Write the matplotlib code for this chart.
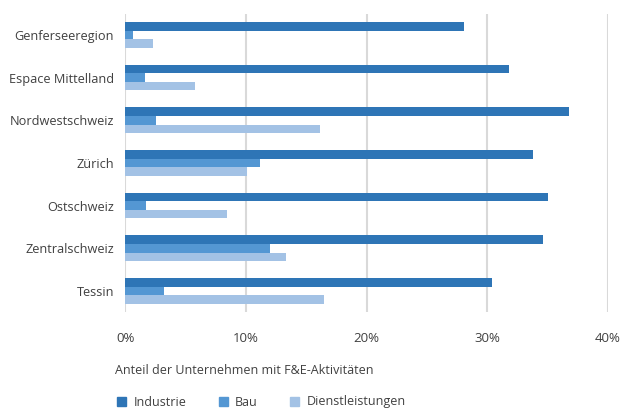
import matplotlib.pyplot as plt
import numpy as np
from matplotlib.patches import Patch

plt.rcParams['font.family'] = ['Open Sans', 'DejaVu Sans']

regions = ["Genferseeregion", "Espace Mittelland", "Nordwestschweiz", "Zürich",
           "Ostschweiz", "Zentralschweiz", "Tessin"]
industrie = [28.1, 31.8, 36.8, 33.8, 35.0, 34.6, 30.4]
bau = [0.6, 1.6, 2.5, 11.2, 1.7, 12.0, 3.2]
dienst = [2.3, 5.8, 16.1, 10.1, 8.4, 13.3, 16.5]
xticks = [0, 10, 20, 30, 40]

c_ind = "#2E75B6"
c_bau = "#5497D3"
c_dl = "#A3C2E5"
txt = "#404040"

fig = plt.figure(figsize=(6.33, 4.12), dpi=100)
ax = fig.add_axes([0.198, 0.242, 0.7625, 0.725])

y = np.arange(len(regions))
h = 0.2
ax.barh(y - h, industrie, height=h, color=c_ind, zorder=3)
ax.barh(y, bau, height=h, color=c_bau, zorder=3)
ax.barh(y + h, dienst, height=h, color=c_dl, zorder=3)

ax.set_ylim(len(regions) - 0.5, -0.5)
ax.set_xlim(0, 40)
ax.set_yticks(y)
ax.set_yticklabels(regions, fontsize=9.2, color=txt)
ax.set_xticks(xticks)
ax.set_xticklabels([f"{v}%" for v in xticks], fontsize=9.5, color=txt)
ax.tick_params(axis='y', length=0, pad=8)
ax.tick_params(axis='x', length=0, pad=14)
for s in ax.spines.values():
    s.set_visible(False)
ax.grid(axis='x', color="#D9D9D9", linewidth=1.5, zorder=0)

fig.text(115 / 633, 1 - 370 / 412, "Anteil der Unternehmen mit F&E-Aktivitäten",
         fontsize=9, color=txt, va='center', ha='left')

handles = [Patch(color=c_ind, label="Industrie"),
           Patch(color=c_bau, label="Bau"),
           Patch(color=c_dl, label="Dienstleistungen")]
fig.legend(handles=handles, loc='center left', bbox_to_anchor=(106 / 633, 1 - 402 / 412),
           ncol=3, frameon=False, fontsize=9, labelcolor=txt,
           handlelength=0.7, handleheight=0.7, columnspacing=2.6, handletextpad=0.6)

fig.savefig("out.png", dpi=100)
